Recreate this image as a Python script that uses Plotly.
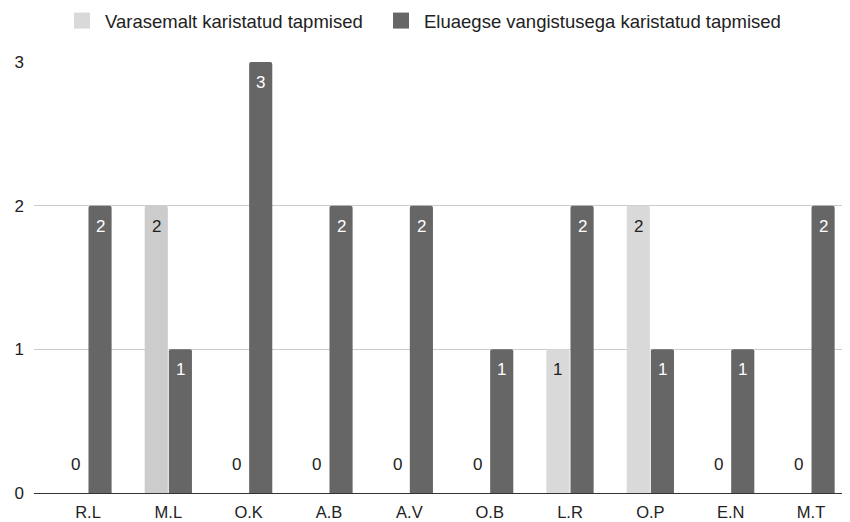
import plotly.graph_objects as go

# data
names = ["R.L", "M.L", "O.K", "A.B", "A.V", "O.B", "L.R", "O.P", "E.N", "M.T"]
varasemalt = [0, 2, 0, 0, 0, 0, 1, 2, 0, 0]
eluaegse = [2, 1, 3, 2, 2, 1, 2, 1, 1, 2]
series_names = ["Varasemalt karistatud tapmised",
                "Eluaegse vangistusega karistatud tapmised"]

LIGHT = "#d9d9d9"
DARK = "#666666"
FONT = "Arial, 'Liberation Sans', sans-serif"
TXT = "#222222"

idx = list(range(len(names)))
light_cols = ["#cccccc" if n == "M.L" else LIGHT for n in names]

fig = go.Figure()
fig.add_trace(go.Bar(
    name=series_names[0], x=idx, y=varasemalt, showlegend=False,
    marker=dict(color=light_cols, line=dict(width=0)),
))
fig.add_trace(go.Bar(
    name=series_names[1], x=idx, y=eluaegse, showlegend=False,
    marker=dict(color=DARK, line=dict(width=0)),
))

# legend entries with bigger square swatches (nbsp pads the gap between items)
for k, (nm, col) in enumerate(zip(series_names, [LIGHT, DARK])):
    fig.add_trace(go.Scatter(
        x=[None], y=[None], mode="markers",
        name=nm + ("\u00a0\u00a0" if k == 0 else ""),
        marker=dict(symbol="square", size=17, color=col),
    ))

# value labels at the top of each bar (zeros sit above the baseline)
off = 0.15
for i in idx:
    for val, dx, col in ((varasemalt[i], -off, TXT), (eluaegse[i], off, "#ffffff")):
        fig.add_annotation(
            x=i + dx, y=val, text=str(val), showarrow=False,
            yanchor="top" if val > 0 else "bottom",
            yshift=-9 if val > 0 else 17,
            font=dict(family=FONT, size=17, color=col if val > 0 else TXT),
        )

fig.update_layout(
    width=850, height=522,
    paper_bgcolor="white", plot_bgcolor="white",
    margin=dict(l=26, r=8, t=54, b=37),
    font=dict(family=FONT, size=17, color=TXT),
    barmode="group", bargap=0.4, bargroupgap=0.04,
    barcornerradius=2,
    showlegend=True,
    legend=dict(
        orientation="h", xref="container", yref="container",
        x=0.060, xanchor="left", y=0.975, yanchor="middle",
        font=dict(family=FONT, size=18.5, color=TXT),
        traceorder="normal", itemwidth=36,
    ),
    xaxis=dict(
        range=[-0.672, 9.485], automargin=False,
        tickmode="array", tickvals=idx, ticktext=names,
        showgrid=False, zeroline=False, showline=False,
        ticks="", ticklabelstandoff=7,
        tickfont=dict(size=16.5, color=TXT),
    ),
    yaxis=dict(
        range=[0, 3], tickvals=[0, 1, 2, 3], automargin=False,
        showgrid=True, gridcolor="#cccccc", gridwidth=1,
        zeroline=True, zerolinecolor="#333333", zerolinewidth=1,
        showline=False, ticks="", ticklabelstandoff=9,
        tickfont=dict(size=17, color=TXT),
    ),
)

fig.write_html("out.html")
